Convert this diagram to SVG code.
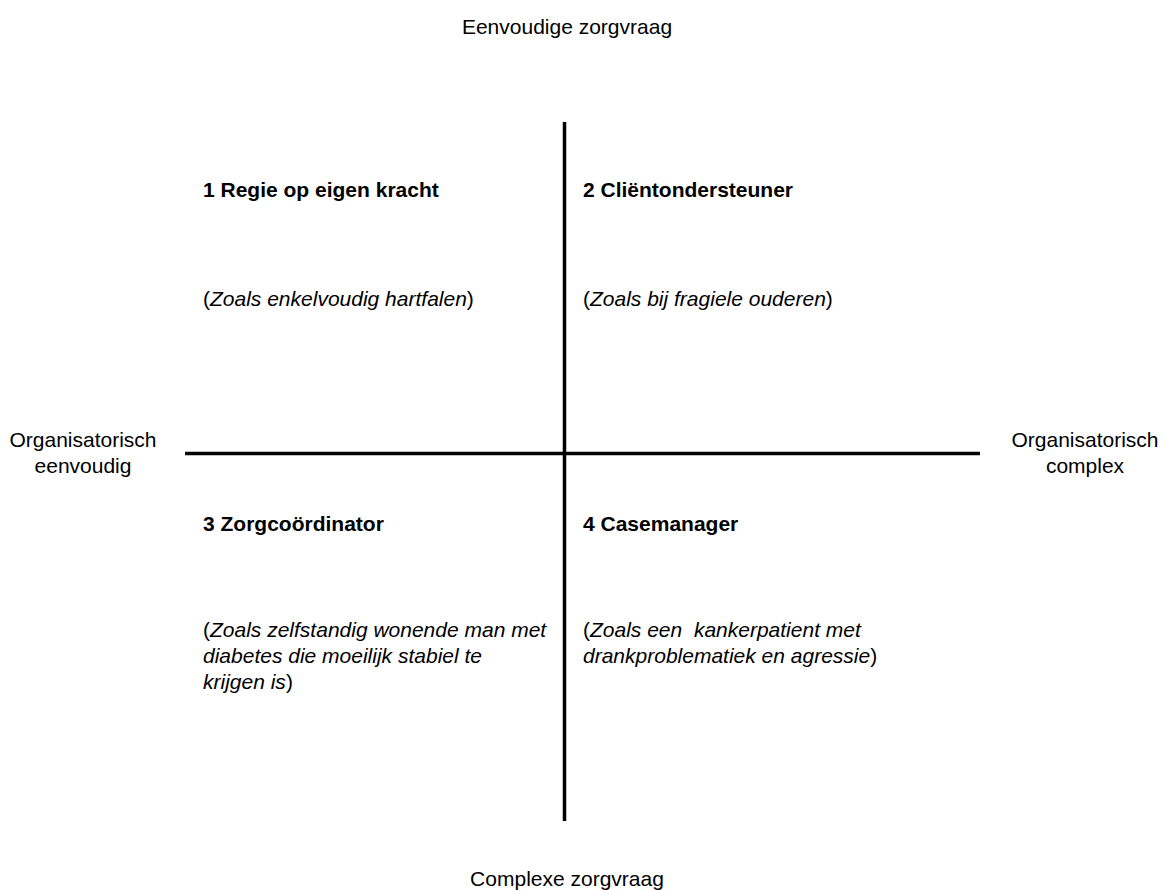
<svg xmlns="http://www.w3.org/2000/svg" width="1163" height="890" viewBox="0 0 1163 890">
<style>
text{font-family:"Liberation Sans",Arial,sans-serif;font-size:21px;fill:#000}
.t{font-weight:bold}
.c{text-anchor:middle}
.ax{stroke:#000;stroke-width:3.5;fill:none}
</style>
<rect width="1163" height="890" fill="#fff"/>
<g id="connectors">
<line class="ax" x1="564.5" y1="122" x2="564.5" y2="821"/>
<line class="ax" x1="185" y1="453.5" x2="980" y2="453.5"/>
</g>
<g id="axis-top"><text class="c" x="567" y="34">Eenvoudige zorgvraag</text></g>
<g id="axis-bottom"><text class="c" x="567" y="886">Complexe zorgvraag</text></g>
<g id="axis-left"><text class="c" x="83" y="447">Organisatorisch</text><text class="c" x="83" y="473">eenvoudig</text></g>
<g id="axis-right"><text class="c" x="1085" y="447">Organisatorisch</text><text class="c" x="1085" y="473">complex</text></g>
<g id="q1">
<text class="t" x="203" y="197">1 Regie op eigen kracht</text>
<text x="203" y="306">(<tspan font-style="italic">Zoals enkelvoudig hartfalen</tspan>)</text>
</g>
<g id="q2">
<text class="t" x="583" y="197">2 Cliëntondersteuner</text>
<text x="583" y="306">(<tspan font-style="italic">Zoals bij fragiele ouderen</tspan>)</text>
</g>
<g id="q3">
<text class="t" x="203" y="531">3 Zorgcoördinator</text>
<text x="203" y="637">(<tspan font-style="italic">Zoals zelfstandig wonende man met</tspan></text>
<text x="203" y="663" font-style="italic">diabetes die moeilijk stabiel te</text>
<text x="203" y="689"><tspan font-style="italic">krijgen is</tspan>)</text>
</g>
<g id="q4">
<text class="t" x="583" y="531">4 Casemanager</text>
<text x="583" y="637" xml:space="preserve">(<tspan font-style="italic">Zoals een  kankerpatient met</tspan></text>
<text x="583" y="663"><tspan font-style="italic">drankproblematiek en agressie</tspan>)</text>
</g>
</svg>
